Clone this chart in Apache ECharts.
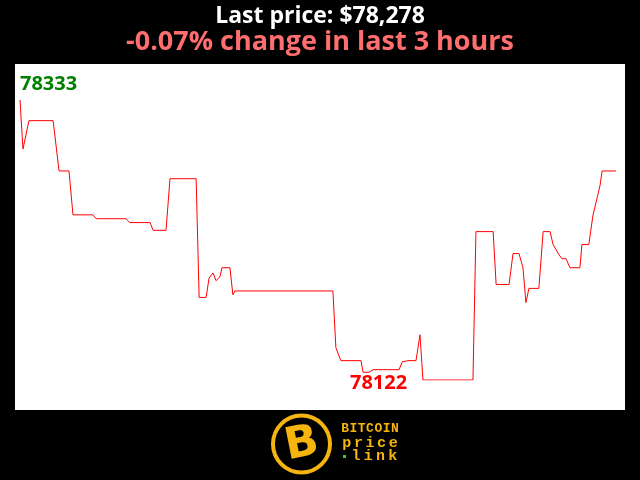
<!DOCTYPE html>
<html><head><meta charset="utf-8">
<script src="https://cdn.jsdelivr.net/npm/echarts@6/dist/echarts.min.js"></script>
<style>html,body{margin:0;padding:0;background:#000;}#c{width:640px;height:480px;}</style>
</head><body><div id="c"></div>
<script>
// minutes since start of the 3-hour window
const minutes = [0,0.9,1.5,2.7,10.0,11.8,14.8,16.0,22.0,23.0,32.0,33.2,39.3,40.2,44.1,45.3,53.2,54.1,56.2,57.1,58.3,59.2,60.4,61.0,63.4,64.3,64.9,94.5,95.4,96.9,103.0,103.6,105.4,106.6,114.5,115.4,117.2,119.6,120.8,121.7,136.8,137.7,142.9,143.8,147.7,148.9,150.7,151.9,152.8,153.7,156.7,158.0,160.1,161.0,161.6,162.8,163.7,164.9,166.1,169.1,169.7,171.8,173.0,173.6,175.2,175.8,180];
const prices = [78333,78295,78295,78317,78317,78278,78278,78244,78244,78241,78241,78238,78238,78232,78232,78272,78272,78180,78180,78195,78199,78193,78196,78203,78203,78182,78185,78185,78141,78131,78131,78122,78122,78124,78124,78130,78131,78131,78151,78116,78116,78231,78231,78190,78190,78214,78214,78203,78176,78187,78187,78231,78231,78221,78221,78213,78210,78210,78203,78203,78221,78221,78243,78243,78267,78278,78278];
const lastPriceText = 'Last price: $78,278';
const changeText = '-0.07% change in last 3 hours';
const highLabel = '78333';
const lowLabel = '78122';
const logoLines = ['BITCOIN', 'price', 'link'];

const chart = echarts.init(document.getElementById('c'), null, {renderer:'canvas'});
const data = minutes.map((m,i)=>[m, prices[i]]);
const gold = '#f6b40e';

function spacedText(str, x0, x1, yc, font) {
  const n = str.length;
  const step = n > 1 ? (x1 - x0) / n : 0;
  return str.split('').map((ch, i) => ({
    type: 'text', x: x0 + step * (i + 0.5), y: yc,
    style: {text: ch, fill: gold, font: font, align: 'center', verticalAlign: 'middle'}
  }));
}

const logo = [
  {type:'circle', shape:{cx:301.5, cy:444, r:28.5}, style:{fill:'#000', stroke: gold, lineWidth: 4}},
  {type:'text', x: 302, y: 445, rotation: 0.2, style:{text:'B', fill: gold, font:'bold 44px "DejaVu Sans"', align:'center', verticalAlign:'middle'}}
]
  .concat(spacedText(logoLines[0], 341, 399, 429, 'bold 13px "Liberation Mono"'))
  .concat(spacedText(logoLines[1], 341, 399, 443, 'bold 15px "Liberation Mono"'))
  .concat(spacedText(logoLines[2], 350, 399, 456, 'bold 15px "Liberation Mono"'))
  .concat([{type:'rect', shape:{x:343, y:455, width:3, height:3}, style:{fill:'#2ecc40'}}]);

chart.setOption({
  backgroundColor: '#000',
  animation: false,
  title: [
    {text: lastPriceText, left: 'center', top: 0, textStyle: {color:'#fff', fontSize: 23, fontWeight: 'bold', fontFamily: 'Open Sans'}},
    {text: changeText, left: 'center', top: 24, textStyle: {color:'#ff6e6e', fontSize: 27, fontWeight: 'bold', fontFamily: 'Open Sans'}}
  ],
  grid: {left: 20, right: 24, top: 100, bottom: 100, show: false},
  xAxis: {type: 'value', min: 0, max: 180, show: false},
  yAxis: {type: 'value', min: 78116, max: 78333, show: false},
  graphic: [
    {type:'rect', z: -10, shape:{x:15, y:64, width:610, height:346}, style:{fill:'#fff'}},
    {type:'text', left: 20, top: 74, style:{text: highLabel, fill:'#008000', font:'bold 20px "Open Sans"'}},
    {type:'text', left: 350, top: 373, style:{text: lowLabel, fill:'#ff0000', font:'bold 20px "Open Sans"'}}
  ].concat(logo),
  series: [{
    type: 'line', data: data, symbol: 'none', lineStyle: {color:'#ff0000', width: 1}, silent: true
  }]
});
</script></body></html>
